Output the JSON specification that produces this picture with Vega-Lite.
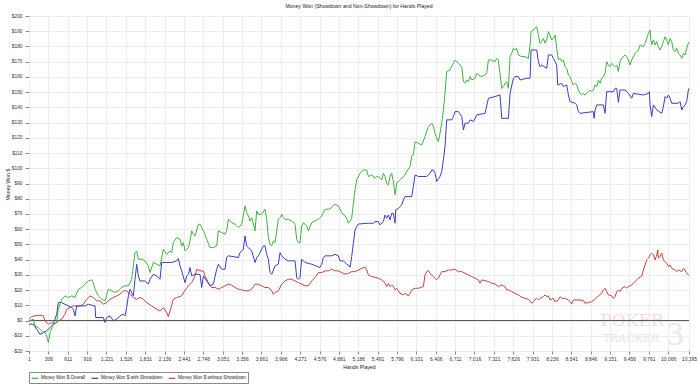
{
  "$schema": "https://vega.github.io/schema/vega-lite/v6.json",
  "width": 660,
  "height": 335,
  "autosize": "none",
  "padding": {"left": 29, "top": 16, "right": 11, "bottom": 38},
  "background": "white",
  "title": {"text": "Money Won (Showdown and Non-Showdown) for Hands Played", "fontSize": 5.2, "font": "Liberation Sans", "fontWeight": "normal", "color": "#222222", "offset": 4},
  "config": {"view": {"stroke": "#888888", "strokeWidth": 1}, "font": "Liberation Sans"},
  "encoding": {
    "x": {
      "field": "h", "type": "quantitative",
      "scale": {"domain": [1, 10395], "nice": false, "zero": false},
      "axis": {
        "values": [1, 306, 611, 916, 1221, 1526, 1831, 2136, 2441, 2746, 3051, 3356, 3661, 3966, 4271, 4576, 4881, 5186, 5491, 5796, 6101, 6406, 6711, 7016, 7321, 7626, 7931, 8236, 8541, 8846, 9151, 9456, 9761, 10066, 10395],
        "format": ",d", "labelFontSize": 5, "labelColor": "#333333", "labelOverlap": false, "labelBound": false, "labelFlush": false,
        "tickSize": 3, "tickColor": "#888888", "domain": false, "labelPadding": 2,
        "grid": true, "gridColor": "#ededed", "gridWidth": 1,
        "title": "Hands Played", "titleFontSize": 5.2, "titleFontWeight": "normal", "titleColor": "#222222", "titlePadding": 3
      }
    },
    "y": {
      "field": "v", "type": "quantitative",
      "scale": {"domain": [-20, 200], "nice": false, "zero": false},
      "axis": {
        "values": [-20, -10, 0, 10, 20, 30, 40, 50, 60, 70, 80, 90, 100, 110, 120, 130, 140, 150, 160, 170, 180, 190, 200],
        "labelExpr": "datum.value < 0 ? '-$' + abs(datum.value) : '$' + datum.value",
        "labelFontSize": 4.8, "labelColor": "#333333", "labelOverlap": false, "labelBound": false,
        "tickSize": 4, "tickColor": "#888888", "domain": false, "labelPadding": 3,
        "grid": true, "gridColor": "#ededed", "gridWidth": 1,
        "title": "Money Won $", "titleFontSize": 5.2, "titleFontWeight": "normal", "titleColor": "#222222",
        "titleX": -22, "titleY": 168, "titleBaseline": "middle", "titleAngle": -90
      }
    }
  },
  "layer": [
    {
      "data": {"values": [{"t": "POKER", "h": 9498, "v": -3.5}]},
      "mark": {"type": "text", "font": "DejaVu Serif", "fontSize": 17, "color": "#f2dcdc", "align": "center", "baseline": "alphabetic"},
      "encoding": {"text": {"field": "t"}}
    },
    {
      "data": {"values": [{"t": "TRACKER", "h": 9480, "v": -14.0}]},
      "mark": {"type": "text", "font": "DejaVu Serif", "fontSize": 11, "color": "#e3e7e3", "align": "center", "baseline": "alphabetic"},
      "encoding": {"text": {"field": "t"}}
    },
    {
      "data": {"values": [{"t": "3", "h": 10175, "v": -16}]},
      "mark": {"type": "text", "font": "DejaVu Serif", "fontSize": 30, "color": "#e2ece2", "align": "center", "baseline": "alphabetic"},
      "encoding": {"text": {"field": "t"}}
    },
    {
      "data": {"values": [{"h": 1, "v": 0}, {"h": 10395, "v": 0}]},
      "mark": {"type": "line", "color": "#555555", "strokeWidth": 1}
    },
    {
      "data": {"values": [
        {"s":"R","h":1,"v":0.9},{"s":"R","h":43,"v":2.6},{"s":"R","h":96,"v":3.1},{"s":"R","h":174,"v":3.5},{"s":"R","h":227,"v":3.1},{"s":"R","h":253,"v":-0.2},{"s":"R","h":306,"v":-2.4},{"s":"R","h":358,"v":-1.3},{"s":"R","h":411,"v":-2.4},{"s":"R","h":463,"v":-0.2},{"s":"R","h":516,"v":0.9},{"s":"R","h":568,"v":4.2},{"s":"R","h":594,"v":7.4},{"s":"R","h":647,"v":8.5},{"s":"R","h":699,"v":9.6},{"s":"R","h":804,"v":9.6},{"s":"R","h":857,"v":10.7},{"s":"R","h":909,"v":14.0},{"s":"R","h":962,"v":16.2},{"s":"R","h":1014,"v":15.1},{"s":"R","h":1067,"v":12.9},{"s":"R","h":1119,"v":12.9},{"s":"R","h":1172,"v":10.7},{"s":"R","h":1224,"v":11.8},{"s":"R","h":1277,"v":14.0},{"s":"R","h":1329,"v":15.1},{"s":"R","h":1382,"v":16.2},{"s":"R","h":1434,"v":17.3},{"s":"R","h":1487,"v":19.5},{"s":"R","h":1539,"v":19.5},{"s":"R","h":1592,"v":17.3},{"s":"R","h":1644,"v":15.1},{"s":"R","h":1697,"v":14.0},{"s":"R","h":1749,"v":15.1},{"s":"R","h":1802,"v":14.0},{"s":"R","h":1854,"v":11.8},{"s":"R","h":1933,"v":9.6},{"s":"R","h":2012,"v":7.4},{"s":"R","h":2064,"v":6.3},{"s":"R","h":2117,"v":8.5},{"s":"R","h":2169,"v":5.3},{"s":"R","h":2196,"v":2.6},{"s":"R","h":2222,"v":6.3},{"s":"R","h":2274,"v":14.0},{"s":"R","h":2327,"v":15.1},{"s":"R","h":2406,"v":16.2},{"s":"R","h":2458,"v":20.0},{"s":"R","h":2511,"v":22.8},{"s":"R","h":2563,"v":24.9},{"s":"R","h":2616,"v":29.3},{"s":"R","h":2642,"v":33.7},{"s":"R","h":2694,"v":32.6},{"s":"R","h":2747,"v":32.6},{"s":"R","h":2773,"v":29.3},{"s":"R","h":2799,"v":27.1},{"s":"R","h":2826,"v":24.9},{"s":"R","h":2878,"v":21.7},{"s":"R","h":2931,"v":21.7},{"s":"R","h":2983,"v":20.6},{"s":"R","h":3036,"v":21.7},{"s":"R","h":3088,"v":22.8},{"s":"R","h":3141,"v":23.9},{"s":"R","h":3193,"v":23.2},{"s":"R","h":3246,"v":21.7},{"s":"R","h":3298,"v":20.6},{"s":"R","h":3351,"v":20.1},{"s":"R","h":3403,"v":19.5},{"s":"R","h":3456,"v":19.5},{"s":"R","h":3508,"v":20.6},{"s":"R","h":3561,"v":23.9},{"s":"R","h":3613,"v":23.9},{"s":"R","h":3666,"v":22.8},{"s":"R","h":3718,"v":21.7},{"s":"R","h":3771,"v":21.7},{"s":"R","h":3823,"v":19.5},{"s":"R","h":3849,"v":17.3},{"s":"R","h":3876,"v":18.4},{"s":"R","h":3928,"v":19.5},{"s":"R","h":3981,"v":23.9},{"s":"R","h":4033,"v":26.0},{"s":"R","h":4086,"v":27.1},{"s":"R","h":4138,"v":27.1},{"s":"R","h":4191,"v":26.0},{"s":"R","h":4243,"v":24.9},{"s":"R","h":4296,"v":23.9},{"s":"R","h":4348,"v":22.8},{"s":"R","h":4401,"v":22.8},{"s":"R","h":4453,"v":26.0},{"s":"R","h":4506,"v":28.2},{"s":"R","h":4558,"v":31.5},{"s":"R","h":4611,"v":31.5},{"s":"R","h":4663,"v":32.6},{"s":"R","h":4716,"v":32.6},{"s":"R","h":4768,"v":33.7},{"s":"R","h":4821,"v":32.6},{"s":"R","h":4873,"v":32.6},{"s":"R","h":4926,"v":31.5},{"s":"R","h":4978,"v":30.5},{"s":"R","h":5031,"v":31.0},{"s":"R","h":5083,"v":32.1},{"s":"R","h":5136,"v":32.1},{"s":"R","h":5188,"v":33.2},{"s":"R","h":5241,"v":34.3},{"s":"R","h":5293,"v":35.0},{"s":"R","h":5319,"v":33.2},{"s":"R","h":5346,"v":30.0},{"s":"R","h":5398,"v":28.9},{"s":"R","h":5451,"v":28.4},{"s":"R","h":5503,"v":27.8},{"s":"R","h":5556,"v":26.7},{"s":"R","h":5608,"v":24.5},{"s":"R","h":5634,"v":22.3},{"s":"R","h":5661,"v":24.5},{"s":"R","h":5687,"v":22.3},{"s":"R","h":5713,"v":23.4},{"s":"R","h":5739,"v":22.3},{"s":"R","h":5766,"v":20.1},{"s":"R","h":5792,"v":21.2},{"s":"R","h":5844,"v":17.9},{"s":"R","h":5897,"v":16.8},{"s":"R","h":5923,"v":17.9},{"s":"R","h":5976,"v":16.2},{"s":"R","h":6002,"v":17.9},{"s":"R","h":6028,"v":20.1},{"s":"R","h":6081,"v":21.2},{"s":"R","h":6133,"v":21.2},{"s":"R","h":6186,"v":21.9},{"s":"R","h":6212,"v":22.3},{"s":"R","h":6238,"v":30.0},{"s":"R","h":6264,"v":32.1},{"s":"R","h":6291,"v":32.8},{"s":"R","h":6317,"v":31.0},{"s":"R","h":6369,"v":28.9},{"s":"R","h":6422,"v":26.7},{"s":"R","h":6448,"v":27.8},{"s":"R","h":6474,"v":30.0},{"s":"R","h":6501,"v":32.1},{"s":"R","h":6553,"v":32.1},{"s":"R","h":6606,"v":33.2},{"s":"R","h":6658,"v":33.2},{"s":"R","h":6711,"v":33.7},{"s":"R","h":6763,"v":32.1},{"s":"R","h":6816,"v":32.1},{"s":"R","h":6868,"v":31.0},{"s":"R","h":6921,"v":30.0},{"s":"R","h":6973,"v":28.9},{"s":"R","h":7026,"v":27.8},{"s":"R","h":7078,"v":26.7},{"s":"R","h":7104,"v":24.5},{"s":"R","h":7131,"v":26.7},{"s":"R","h":7183,"v":26.2},{"s":"R","h":7236,"v":25.6},{"s":"R","h":7288,"v":24.5},{"s":"R","h":7341,"v":24.0},{"s":"R","h":7393,"v":22.3},{"s":"R","h":7446,"v":23.4},{"s":"R","h":7498,"v":22.3},{"s":"R","h":7524,"v":20.1},{"s":"R","h":7551,"v":20.1},{"s":"R","h":7603,"v":19.0},{"s":"R","h":7656,"v":17.9},{"s":"R","h":7708,"v":16.8},{"s":"R","h":7761,"v":15.3},{"s":"R","h":7813,"v":14.6},{"s":"R","h":7866,"v":14.0},{"s":"R","h":7918,"v":11.4},{"s":"R","h":7944,"v":12.4},{"s":"R","h":7971,"v":14.0},{"s":"R","h":7997,"v":14.6},{"s":"R","h":8023,"v":13.5},{"s":"R","h":8049,"v":14.6},{"s":"R","h":8102,"v":15.7},{"s":"R","h":8128,"v":16.8},{"s":"R","h":8154,"v":15.7},{"s":"R","h":8181,"v":16.2},{"s":"R","h":8207,"v":13.5},{"s":"R","h":8259,"v":14.6},{"s":"R","h":8286,"v":12.4},{"s":"R","h":8338,"v":13.5},{"s":"R","h":8364,"v":15.7},{"s":"R","h":8391,"v":14.6},{"s":"R","h":8443,"v":14.6},{"s":"R","h":8496,"v":13.5},{"s":"R","h":8522,"v":12.4},{"s":"R","h":8548,"v":10.9},{"s":"R","h":8574,"v":13.5},{"s":"R","h":8679,"v":13.5},{"s":"R","h":8732,"v":13.1},{"s":"R","h":8758,"v":11.4},{"s":"R","h":8811,"v":11.8},{"s":"R","h":8863,"v":12.4},{"s":"R","h":8916,"v":14.0},{"s":"R","h":8968,"v":16.2},{"s":"R","h":9021,"v":17.9},{"s":"R","h":9047,"v":20.1},{"s":"R","h":9073,"v":21.2},{"s":"R","h":9099,"v":19.0},{"s":"R","h":9126,"v":16.8},{"s":"R","h":9178,"v":16.2},{"s":"R","h":9204,"v":14.6},{"s":"R","h":9231,"v":15.7},{"s":"R","h":9257,"v":19.0},{"s":"R","h":9283,"v":20.1},{"s":"R","h":9309,"v":19.0},{"s":"R","h":9336,"v":21.2},{"s":"R","h":9388,"v":22.3},{"s":"R","h":9414,"v":21.2},{"s":"R","h":9441,"v":22.3},{"s":"R","h":9493,"v":23.4},{"s":"R","h":9546,"v":25.6},{"s":"R","h":9598,"v":27.8},{"s":"R","h":9651,"v":29.3},{"s":"R","h":9677,"v":33.2},{"s":"R","h":9703,"v":36.5},{"s":"R","h":9729,"v":39.8},{"s":"R","h":9756,"v":40.9},{"s":"R","h":9782,"v":43.1},{"s":"R","h":9808,"v":44.2},{"s":"R","h":9834,"v":43.1},{"s":"R","h":9861,"v":39.8},{"s":"R","h":9887,"v":43.1},{"s":"R","h":9903,"v":46.4},{"s":"R","h":9913,"v":40.9},{"s":"R","h":9939,"v":42.0},{"s":"R","h":9966,"v":44.2},{"s":"R","h":9992,"v":39.8},{"s":"R","h":10018,"v":38.7},{"s":"R","h":10044,"v":37.6},{"s":"R","h":10071,"v":35.4},{"s":"R","h":10097,"v":36.5},{"s":"R","h":10123,"v":34.3},{"s":"R","h":10176,"v":33.2},{"s":"R","h":10202,"v":32.1},{"s":"R","h":10228,"v":33.2},{"s":"R","h":10281,"v":32.1},{"s":"R","h":10307,"v":34.3},{"s":"R","h":10333,"v":33.2},{"s":"R","h":10359,"v":31.0},{"s":"R","h":10385,"v":30.0},{"s":"R","h":10395,"v":29.8},

        {"s":"B","h":1,"v":-2.4},{"s":"B","h":69,"v":-2.4},{"s":"B","h":122,"v":-5.7},{"s":"B","h":174,"v":-9.0},{"s":"B","h":227,"v":-7.9},{"s":"B","h":279,"v":-6.8},{"s":"B","h":332,"v":-4.6},{"s":"B","h":384,"v":-2.4},{"s":"B","h":437,"v":4.2},{"s":"B","h":463,"v":11.8},{"s":"B","h":516,"v":11.8},{"s":"B","h":568,"v":10.7},{"s":"B","h":621,"v":9.6},{"s":"B","h":673,"v":8.5},{"s":"B","h":699,"v":7.4},{"s":"B","h":726,"v":3.1},{"s":"B","h":752,"v":9.6},{"s":"B","h":831,"v":9.6},{"s":"B","h":883,"v":9.6},{"s":"B","h":936,"v":10.7},{"s":"B","h":988,"v":10.1},{"s":"B","h":1041,"v":9.6},{"s":"B","h":1051,"v":2.0},{"s":"B","h":1119,"v":2.0},{"s":"B","h":1172,"v":2.0},{"s":"B","h":1198,"v":-1.3},{"s":"B","h":1224,"v":2.0},{"s":"B","h":1277,"v":3.1},{"s":"B","h":1329,"v":-0.2},{"s":"B","h":1382,"v":0.9},{"s":"B","h":1434,"v":3.1},{"s":"B","h":1487,"v":4.2},{"s":"B","h":1513,"v":3.1},{"s":"B","h":1539,"v":8.5},{"s":"B","h":1566,"v":16.2},{"s":"B","h":1592,"v":20.6},{"s":"B","h":1618,"v":18.4},{"s":"B","h":1644,"v":16.2},{"s":"B","h":1671,"v":27.1},{"s":"B","h":1697,"v":37.0},{"s":"B","h":1723,"v":29.3},{"s":"B","h":1749,"v":26.0},{"s":"B","h":1828,"v":26.0},{"s":"B","h":1881,"v":23.9},{"s":"B","h":1907,"v":27.1},{"s":"B","h":1959,"v":30.4},{"s":"B","h":2012,"v":29.3},{"s":"B","h":2064,"v":27.1},{"s":"B","h":2091,"v":38.1},{"s":"B","h":2169,"v":38.1},{"s":"B","h":2248,"v":38.1},{"s":"B","h":2327,"v":39.2},{"s":"B","h":2353,"v":40.7},{"s":"B","h":2379,"v":35.9},{"s":"B","h":2406,"v":32.6},{"s":"B","h":2458,"v":24.9},{"s":"B","h":2484,"v":29.3},{"s":"B","h":2511,"v":30.4},{"s":"B","h":2537,"v":34.8},{"s":"B","h":2563,"v":29.3},{"s":"B","h":2616,"v":30.4},{"s":"B","h":2694,"v":30.4},{"s":"B","h":2721,"v":21.7},{"s":"B","h":2747,"v":29.3},{"s":"B","h":2799,"v":26.0},{"s":"B","h":2852,"v":22.8},{"s":"B","h":2904,"v":23.9},{"s":"B","h":2957,"v":33.7},{"s":"B","h":2983,"v":37.0},{"s":"B","h":3036,"v":33.7},{"s":"B","h":3088,"v":33.7},{"s":"B","h":3114,"v":41.4},{"s":"B","h":3141,"v":42.5},{"s":"B","h":3298,"v":41.4},{"s":"B","h":3324,"v":44.6},{"s":"B","h":3351,"v":45.7},{"s":"B","h":3377,"v":46.8},{"s":"B","h":3403,"v":55.6},{"s":"B","h":3429,"v":49.0},{"s":"B","h":3456,"v":47.9},{"s":"B","h":3508,"v":45.7},{"s":"B","h":3561,"v":38.1},{"s":"B","h":3587,"v":41.4},{"s":"B","h":3613,"v":42.5},{"s":"B","h":3639,"v":44.6},{"s":"B","h":3692,"v":49.0},{"s":"B","h":3718,"v":49.0},{"s":"B","h":3744,"v":43.5},{"s":"B","h":3771,"v":40.3},{"s":"B","h":3797,"v":31.5},{"s":"B","h":3823,"v":30.4},{"s":"B","h":3876,"v":35.9},{"s":"B","h":3928,"v":37.0},{"s":"B","h":3954,"v":44.6},{"s":"B","h":3981,"v":42.5},{"s":"B","h":4033,"v":40.3},{"s":"B","h":4086,"v":39.2},{"s":"B","h":4191,"v":39.2},{"s":"B","h":4217,"v":28.2},{"s":"B","h":4243,"v":27.1},{"s":"B","h":4269,"v":28.2},{"s":"B","h":4296,"v":40.3},{"s":"B","h":4348,"v":38.1},{"s":"B","h":4453,"v":37.0},{"s":"B","h":4584,"v":34.8},{"s":"B","h":4611,"v":37.0},{"s":"B","h":4637,"v":41.4},{"s":"B","h":4663,"v":42.5},{"s":"B","h":4768,"v":42.5},{"s":"B","h":4821,"v":43.5},{"s":"B","h":4873,"v":42.5},{"s":"B","h":4899,"v":39.2},{"s":"B","h":4952,"v":39.2},{"s":"B","h":5004,"v":37.0},{"s":"B","h":5031,"v":36.5},{"s":"B","h":5057,"v":35.0},{"s":"B","h":5083,"v":42.0},{"s":"B","h":5109,"v":50.7},{"s":"B","h":5136,"v":59.5},{"s":"B","h":5162,"v":61.7},{"s":"B","h":5188,"v":63.4},{"s":"B","h":5346,"v":63.9},{"s":"B","h":5424,"v":63.9},{"s":"B","h":5451,"v":65.0},{"s":"B","h":5503,"v":65.0},{"s":"B","h":5529,"v":62.8},{"s":"B","h":5582,"v":65.0},{"s":"B","h":5608,"v":69.3},{"s":"B","h":5634,"v":67.2},{"s":"B","h":5661,"v":69.3},{"s":"B","h":5687,"v":66.1},{"s":"B","h":5713,"v":70.4},{"s":"B","h":5739,"v":70.4},{"s":"B","h":5766,"v":63.9},{"s":"B","h":5776,"v":72.6},{"s":"B","h":5818,"v":73.7},{"s":"B","h":5871,"v":75.9},{"s":"B","h":5897,"v":79.2},{"s":"B","h":5923,"v":81.4},{"s":"B","h":6028,"v":81.4},{"s":"B","h":6054,"v":88.0},{"s":"B","h":6081,"v":95.6},{"s":"B","h":6133,"v":94.6},{"s":"B","h":6264,"v":94.6},{"s":"B","h":6317,"v":96.7},{"s":"B","h":6343,"v":98.9},{"s":"B","h":6369,"v":98.9},{"s":"B","h":6396,"v":96.7},{"s":"B","h":6422,"v":91.3},{"s":"B","h":6474,"v":94.6},{"s":"B","h":6501,"v":97.8},{"s":"B","h":6527,"v":105.5},{"s":"B","h":6553,"v":114.3},{"s":"B","h":6579,"v":131.8},{"s":"B","h":6658,"v":131.8},{"s":"B","h":6684,"v":134.0},{"s":"B","h":6711,"v":137.2},{"s":"B","h":6763,"v":137.2},{"s":"B","h":6816,"v":134.0},{"s":"B","h":6842,"v":125.2},{"s":"B","h":6868,"v":129.6},{"s":"B","h":6921,"v":129.6},{"s":"B","h":6947,"v":131.8},{"s":"B","h":6999,"v":130.7},{"s":"B","h":7052,"v":135.0},{"s":"B","h":7183,"v":136.1},{"s":"B","h":7236,"v":146.0},{"s":"B","h":7341,"v":147.1},{"s":"B","h":7419,"v":148.2},{"s":"B","h":7446,"v":132.8},{"s":"B","h":7551,"v":132.8},{"s":"B","h":7577,"v":149.3},{"s":"B","h":7629,"v":159.1},{"s":"B","h":7656,"v":160.2},{"s":"B","h":7708,"v":160.2},{"s":"B","h":7734,"v":158.0},{"s":"B","h":7839,"v":159.1},{"s":"B","h":7892,"v":159.1},{"s":"B","h":7908,"v":177.7},{"s":"B","h":7997,"v":177.7},{"s":"B","h":8023,"v":170.0},{"s":"B","h":8049,"v":166.7},{"s":"B","h":8076,"v":167.8},{"s":"B","h":8154,"v":165.6},{"s":"B","h":8181,"v":174.4},{"s":"B","h":8233,"v":174.4},{"s":"B","h":8259,"v":172.2},{"s":"B","h":8286,"v":170.0},{"s":"B","h":8312,"v":167.8},{"s":"B","h":8328,"v":154.7},{"s":"B","h":8391,"v":155.8},{"s":"B","h":8417,"v":153.6},{"s":"B","h":8469,"v":154.7},{"s":"B","h":8496,"v":148.1},{"s":"B","h":8522,"v":143.8},{"s":"B","h":8601,"v":142.7},{"s":"B","h":8627,"v":141.6},{"s":"B","h":8653,"v":137.2},{"s":"B","h":8679,"v":136.1},{"s":"B","h":8889,"v":137.2},{"s":"B","h":8900,"v":132.8},{"s":"B","h":8916,"v":138.3},{"s":"B","h":8942,"v":141.6},{"s":"B","h":9047,"v":141.6},{"s":"B","h":9073,"v":136.1},{"s":"B","h":9099,"v":150.3},{"s":"B","h":9204,"v":150.3},{"s":"B","h":9231,"v":152.5},{"s":"B","h":9257,"v":152.5},{"s":"B","h":9283,"v":143.3},{"s":"B","h":9309,"v":151.4},{"s":"B","h":9388,"v":151.4},{"s":"B","h":9441,"v":149.2},{"s":"B","h":9493,"v":146.0},{"s":"B","h":9519,"v":149.2},{"s":"B","h":9677,"v":148.1},{"s":"B","h":9756,"v":149.2},{"s":"B","h":9771,"v":150.3},{"s":"B","h":9782,"v":141.6},{"s":"B","h":9808,"v":134.0},{"s":"B","h":9834,"v":141.6},{"s":"B","h":9887,"v":138.3},{"s":"B","h":9966,"v":136.1},{"s":"B","h":9992,"v":140.5},{"s":"B","h":10018,"v":147.1},{"s":"B","h":10044,"v":146.0},{"s":"B","h":10071,"v":148.1},{"s":"B","h":10097,"v":146.0},{"s":"B","h":10123,"v":142.7},{"s":"B","h":10228,"v":142.7},{"s":"B","h":10254,"v":143.8},{"s":"B","h":10281,"v":138.3},{"s":"B","h":10307,"v":140.5},{"s":"B","h":10333,"v":141.6},{"s":"B","h":10359,"v":143.8},{"s":"B","h":10385,"v":151.4},{"s":"B","h":10395,"v":152.5},

        {"s":"G","h":1,"v":-0.2},{"s":"G","h":69,"v":0.9},{"s":"G","h":96,"v":-3.5},{"s":"G","h":148,"v":-4.6},{"s":"G","h":200,"v":-6.8},{"s":"G","h":253,"v":-7.9},{"s":"G","h":279,"v":-10.1},{"s":"G","h":306,"v":-14.4},{"s":"G","h":332,"v":-7.9},{"s":"G","h":384,"v":-2.4},{"s":"G","h":437,"v":-1.3},{"s":"G","h":463,"v":7.4},{"s":"G","h":516,"v":14.0},{"s":"G","h":568,"v":16.2},{"s":"G","h":621,"v":15.1},{"s":"G","h":673,"v":16.2},{"s":"G","h":726,"v":15.1},{"s":"G","h":778,"v":20.6},{"s":"G","h":831,"v":21.7},{"s":"G","h":883,"v":23.9},{"s":"G","h":936,"v":26.0},{"s":"G","h":988,"v":26.7},{"s":"G","h":1014,"v":24.9},{"s":"G","h":1041,"v":20.6},{"s":"G","h":1093,"v":16.2},{"s":"G","h":1146,"v":14.0},{"s":"G","h":1198,"v":12.9},{"s":"G","h":1251,"v":20.6},{"s":"G","h":1303,"v":19.5},{"s":"G","h":1356,"v":18.4},{"s":"G","h":1408,"v":19.5},{"s":"G","h":1461,"v":21.7},{"s":"G","h":1513,"v":22.8},{"s":"G","h":1566,"v":22.8},{"s":"G","h":1618,"v":27.1},{"s":"G","h":1671,"v":44.6},{"s":"G","h":1697,"v":45.7},{"s":"G","h":1723,"v":40.3},{"s":"G","h":1776,"v":40.3},{"s":"G","h":1828,"v":39.2},{"s":"G","h":1881,"v":35.9},{"s":"G","h":1907,"v":31.5},{"s":"G","h":1959,"v":38.1},{"s":"G","h":2012,"v":37.0},{"s":"G","h":2064,"v":35.9},{"s":"G","h":2091,"v":41.4},{"s":"G","h":2117,"v":46.8},{"s":"G","h":2169,"v":43.5},{"s":"G","h":2222,"v":45.7},{"s":"G","h":2248,"v":44.6},{"s":"G","h":2274,"v":51.2},{"s":"G","h":2327,"v":54.5},{"s":"G","h":2379,"v":53.4},{"s":"G","h":2406,"v":49.0},{"s":"G","h":2432,"v":51.2},{"s":"G","h":2458,"v":45.7},{"s":"G","h":2511,"v":47.9},{"s":"G","h":2537,"v":52.3},{"s":"G","h":2563,"v":58.9},{"s":"G","h":2589,"v":56.7},{"s":"G","h":2616,"v":55.6},{"s":"G","h":2668,"v":63.2},{"s":"G","h":2694,"v":63.2},{"s":"G","h":2721,"v":61.1},{"s":"G","h":2747,"v":58.9},{"s":"G","h":2773,"v":56.7},{"s":"G","h":2799,"v":53.4},{"s":"G","h":2852,"v":47.9},{"s":"G","h":2904,"v":47.9},{"s":"G","h":2957,"v":49.0},{"s":"G","h":2983,"v":58.9},{"s":"G","h":3036,"v":57.8},{"s":"G","h":3088,"v":56.7},{"s":"G","h":3114,"v":58.9},{"s":"G","h":3141,"v":66.5},{"s":"G","h":3193,"v":64.3},{"s":"G","h":3246,"v":63.2},{"s":"G","h":3298,"v":61.1},{"s":"G","h":3351,"v":63.2},{"s":"G","h":3403,"v":75.3},{"s":"G","h":3429,"v":70.9},{"s":"G","h":3456,"v":68.7},{"s":"G","h":3482,"v":65.4},{"s":"G","h":3508,"v":67.6},{"s":"G","h":3561,"v":58.9},{"s":"G","h":3587,"v":72.0},{"s":"G","h":3613,"v":69.8},{"s":"G","h":3666,"v":69.8},{"s":"G","h":3718,"v":73.1},{"s":"G","h":3744,"v":66.5},{"s":"G","h":3771,"v":54.5},{"s":"G","h":3797,"v":50.1},{"s":"G","h":3823,"v":49.0},{"s":"G","h":3849,"v":52.3},{"s":"G","h":3876,"v":51.2},{"s":"G","h":3928,"v":66.5},{"s":"G","h":3954,"v":67.6},{"s":"G","h":3981,"v":69.8},{"s":"G","h":4007,"v":67.6},{"s":"G","h":4033,"v":66.5},{"s":"G","h":4086,"v":66.5},{"s":"G","h":4138,"v":65.4},{"s":"G","h":4191,"v":63.2},{"s":"G","h":4217,"v":53.4},{"s":"G","h":4243,"v":51.2},{"s":"G","h":4269,"v":51.2},{"s":"G","h":4296,"v":62.1},{"s":"G","h":4322,"v":64.3},{"s":"G","h":4374,"v":62.1},{"s":"G","h":4401,"v":58.9},{"s":"G","h":4453,"v":64.3},{"s":"G","h":4506,"v":65.4},{"s":"G","h":4558,"v":66.5},{"s":"G","h":4611,"v":68.7},{"s":"G","h":4663,"v":73.1},{"s":"G","h":4716,"v":73.1},{"s":"G","h":4768,"v":74.2},{"s":"G","h":4821,"v":76.4},{"s":"G","h":4873,"v":75.3},{"s":"G","h":4926,"v":70.9},{"s":"G","h":4978,"v":68.7},{"s":"G","h":5004,"v":67.2},{"s":"G","h":5031,"v":63.9},{"s":"G","h":5057,"v":65.0},{"s":"G","h":5083,"v":67.2},{"s":"G","h":5109,"v":77.0},{"s":"G","h":5136,"v":85.8},{"s":"G","h":5162,"v":92.4},{"s":"G","h":5214,"v":96.7},{"s":"G","h":5267,"v":98.9},{"s":"G","h":5319,"v":98.9},{"s":"G","h":5346,"v":94.6},{"s":"G","h":5398,"v":95.6},{"s":"G","h":5451,"v":93.5},{"s":"G","h":5477,"v":94.6},{"s":"G","h":5503,"v":94.6},{"s":"G","h":5556,"v":92.4},{"s":"G","h":5582,"v":96.7},{"s":"G","h":5608,"v":94.6},{"s":"G","h":5634,"v":90.2},{"s":"G","h":5661,"v":89.1},{"s":"G","h":5687,"v":94.6},{"s":"G","h":5713,"v":96.7},{"s":"G","h":5739,"v":91.3},{"s":"G","h":5766,"v":82.5},{"s":"G","h":5792,"v":90.2},{"s":"G","h":5844,"v":92.4},{"s":"G","h":5897,"v":94.6},{"s":"G","h":5923,"v":95.6},{"s":"G","h":5949,"v":97.8},{"s":"G","h":6002,"v":101.1},{"s":"G","h":6028,"v":107.7},{"s":"G","h":6054,"v":108.8},{"s":"G","h":6081,"v":117.5},{"s":"G","h":6133,"v":116.4},{"s":"G","h":6186,"v":115.3},{"s":"G","h":6238,"v":120.8},{"s":"G","h":6291,"v":127.4},{"s":"G","h":6343,"v":129.6},{"s":"G","h":6369,"v":127.4},{"s":"G","h":6396,"v":123.0},{"s":"G","h":6422,"v":119.7},{"s":"G","h":6448,"v":117.5},{"s":"G","h":6474,"v":123.0},{"s":"G","h":6501,"v":129.6},{"s":"G","h":6527,"v":138.3},{"s":"G","h":6553,"v":149.3},{"s":"G","h":6579,"v":163.5},{"s":"G","h":6632,"v":164.6},{"s":"G","h":6684,"v":169.0},{"s":"G","h":6711,"v":171.1},{"s":"G","h":6763,"v":169.0},{"s":"G","h":6816,"v":166.8},{"s":"G","h":6842,"v":156.9},{"s":"G","h":6868,"v":155.8},{"s":"G","h":6894,"v":158.0},{"s":"G","h":6921,"v":156.9},{"s":"G","h":6947,"v":160.2},{"s":"G","h":6973,"v":158.0},{"s":"G","h":7026,"v":159.1},{"s":"G","h":7052,"v":162.4},{"s":"G","h":7078,"v":161.3},{"s":"G","h":7131,"v":160.2},{"s":"G","h":7183,"v":161.3},{"s":"G","h":7209,"v":162.4},{"s":"G","h":7236,"v":171.1},{"s":"G","h":7288,"v":171.1},{"s":"G","h":7341,"v":170.0},{"s":"G","h":7367,"v":172.2},{"s":"G","h":7393,"v":171.1},{"s":"G","h":7419,"v":162.4},{"s":"G","h":7446,"v":152.5},{"s":"G","h":7472,"v":153.6},{"s":"G","h":7498,"v":155.8},{"s":"G","h":7524,"v":156.9},{"s":"G","h":7551,"v":152.5},{"s":"G","h":7577,"v":173.3},{"s":"G","h":7603,"v":175.5},{"s":"G","h":7629,"v":178.8},{"s":"G","h":7656,"v":177.7},{"s":"G","h":7682,"v":178.8},{"s":"G","h":7708,"v":174.4},{"s":"G","h":7761,"v":173.3},{"s":"G","h":7813,"v":173.3},{"s":"G","h":7866,"v":172.2},{"s":"G","h":7892,"v":181.0},{"s":"G","h":7908,"v":189.7},{"s":"G","h":7944,"v":190.8},{"s":"G","h":7971,"v":191.9},{"s":"G","h":7997,"v":193.0},{"s":"G","h":8023,"v":187.5},{"s":"G","h":8049,"v":182.1},{"s":"G","h":8076,"v":183.2},{"s":"G","h":8102,"v":185.3},{"s":"G","h":8128,"v":182.1},{"s":"G","h":8154,"v":184.2},{"s":"G","h":8181,"v":189.7},{"s":"G","h":8207,"v":187.5},{"s":"G","h":8233,"v":184.2},{"s":"G","h":8259,"v":185.3},{"s":"G","h":8286,"v":187.5},{"s":"G","h":8312,"v":178.8},{"s":"G","h":8338,"v":171.1},{"s":"G","h":8364,"v":172.2},{"s":"G","h":8391,"v":170.0},{"s":"G","h":8417,"v":171.1},{"s":"G","h":8443,"v":166.7},{"s":"G","h":8469,"v":165.6},{"s":"G","h":8496,"v":161.3},{"s":"G","h":8522,"v":160.2},{"s":"G","h":8548,"v":156.9},{"s":"G","h":8574,"v":154.7},{"s":"G","h":8601,"v":155.8},{"s":"G","h":8627,"v":154.7},{"s":"G","h":8653,"v":151.4},{"s":"G","h":8679,"v":149.2},{"s":"G","h":8706,"v":148.1},{"s":"G","h":8732,"v":149.2},{"s":"G","h":8758,"v":148.1},{"s":"G","h":8784,"v":149.2},{"s":"G","h":8811,"v":150.3},{"s":"G","h":8837,"v":151.4},{"s":"G","h":8863,"v":150.3},{"s":"G","h":8889,"v":151.4},{"s":"G","h":8916,"v":154.7},{"s":"G","h":8942,"v":153.6},{"s":"G","h":8968,"v":158.0},{"s":"G","h":8994,"v":155.8},{"s":"G","h":9021,"v":159.1},{"s":"G","h":9047,"v":160.2},{"s":"G","h":9073,"v":162.4},{"s":"G","h":9099,"v":170.0},{"s":"G","h":9126,"v":167.8},{"s":"G","h":9152,"v":166.7},{"s":"G","h":9178,"v":168.9},{"s":"G","h":9231,"v":166.7},{"s":"G","h":9257,"v":167.8},{"s":"G","h":9283,"v":163.5},{"s":"G","h":9309,"v":170.0},{"s":"G","h":9336,"v":172.2},{"s":"G","h":9388,"v":174.4},{"s":"G","h":9414,"v":173.3},{"s":"G","h":9441,"v":171.1},{"s":"G","h":9467,"v":167.8},{"s":"G","h":9493,"v":171.1},{"s":"G","h":9546,"v":175.5},{"s":"G","h":9572,"v":176.6},{"s":"G","h":9598,"v":177.7},{"s":"G","h":9624,"v":181.0},{"s":"G","h":9677,"v":179.9},{"s":"G","h":9703,"v":182.1},{"s":"G","h":9729,"v":185.3},{"s":"G","h":9756,"v":188.6},{"s":"G","h":9782,"v":190.8},{"s":"G","h":9792,"v":185.3},{"s":"G","h":9808,"v":181.0},{"s":"G","h":9834,"v":184.2},{"s":"G","h":9861,"v":181.0},{"s":"G","h":9887,"v":183.2},{"s":"G","h":9913,"v":179.9},{"s":"G","h":9939,"v":177.7},{"s":"G","h":9966,"v":179.9},{"s":"G","h":9992,"v":183.2},{"s":"G","h":10018,"v":186.4},{"s":"G","h":10044,"v":184.2},{"s":"G","h":10071,"v":181.0},{"s":"G","h":10097,"v":185.3},{"s":"G","h":10123,"v":183.2},{"s":"G","h":10149,"v":177.7},{"s":"G","h":10176,"v":176.6},{"s":"G","h":10202,"v":178.8},{"s":"G","h":10228,"v":175.5},{"s":"G","h":10254,"v":174.4},{"s":"G","h":10281,"v":172.2},{"s":"G","h":10307,"v":175.5},{"s":"G","h":10333,"v":174.4},{"s":"G","h":10359,"v":178.8},{"s":"G","h":10385,"v":182.1},{"s":"G","h":10395,"v":183.0}
      ]},
      "mark": {"type": "line", "strokeWidth": 1},
      "encoding": {
        "color": {
          "field": "s", "type": "nominal",
          "scale": {"domain": ["G", "B", "R"], "range": ["#3cb43c", "#3c3cc8", "#c84040"]},
          "legend": {
            "orient": "none", "legendX": 0, "legendY": 356, "direction": "horizontal", "title": null,
            "labelExpr": "datum.label == 'G' ? 'Money Won $ Overall' : datum.label == 'B' ? 'Money Won $ with Showdown' : 'Money Won $ without Showdown'",
            "symbolType": "stroke", "symbolSize": 45, "symbolStrokeWidth": 1.2,
            "labelFont": "Liberation Sans", "labelFontSize": 4.6, "labelColor": "#222222", "labelLimit": 0, "labelOffset": 2,
            "strokeColor": "#888888", "fillColor": "white", "padding": 2, "columnPadding": 3, "offset": 0
          }
        }
      }
    }
  ]
}
